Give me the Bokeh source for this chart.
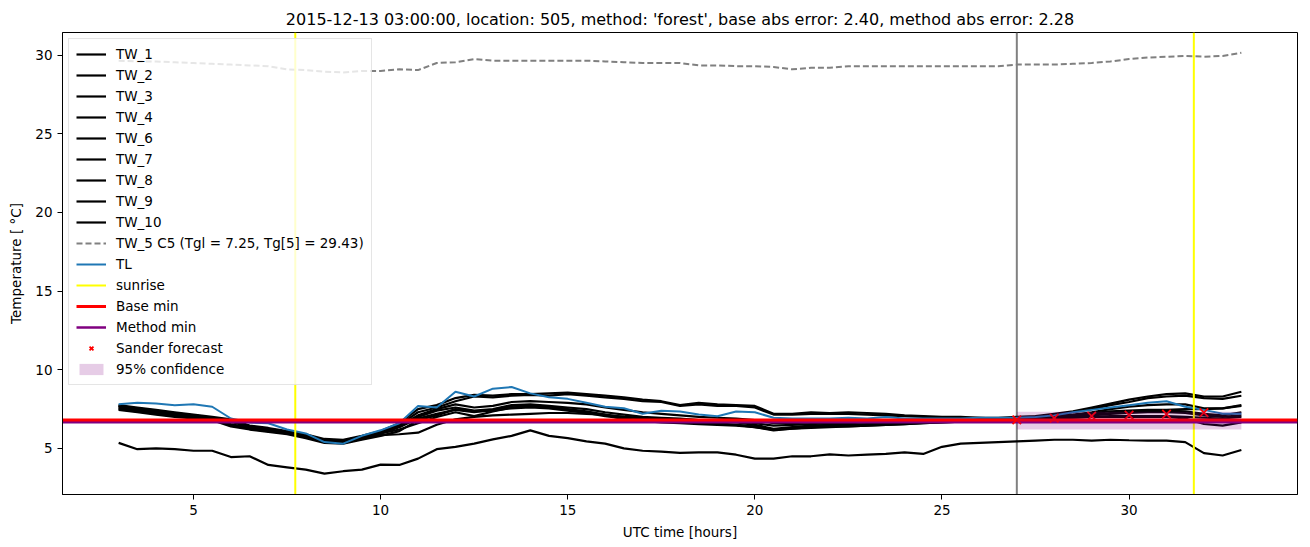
from bokeh.plotting import figure
from bokeh.models import Span, Legend, LegendItem, Range1d, FixedTicker
from bokeh.embed import file_html
from bokeh.resources import INLINE

# ---------------- data ----------------
hours = [3.0 + 0.5 * i for i in range(61)]

tw_1 = [5.35, 4.95, 5.0, 4.95, 4.85, 4.85, 4.45, 4.5, 3.95, 3.8, 3.65, 3.4, 3.55, 3.65, 3.97, 3.95,
        4.35, 4.95, 5.1, 5.3, 5.57, 5.8, 6.15, 5.8, 5.65, 5.45, 5.3, 5.0, 4.85, 4.8, 4.72, 4.75,
        4.75, 4.6, 4.35, 4.35, 4.5, 4.5, 4.62, 4.55, 4.6, 4.65, 4.75, 4.65, 5.1, 5.3, 5.35, 5.4,
        5.45, 5.5, 5.55, 5.55, 5.5, 5.55, 5.52, 5.5, 5.5, 5.4, 4.7, 4.55, 4.9]
tw_2 = [7.75, 7.6, 7.45, 7.3, 7.15, 7.0, 6.85, 6.45, 6.3, 6.1, 5.9, 5.6, 5.55, 5.8, 6.1, 6.6,
        7.5, 7.75, 8.2, 8.4, 8.35, 8.45, 8.45, 8.5, 8.55, 8.45, 8.35, 8.25, 8.1, 8.0, 7.75, 7.9,
        7.8, 7.75, 7.7, 7.2, 7.2, 7.3, 7.25, 7.3, 7.25, 7.2, 7.1, 7.05, 7.0, 7.0, 6.95, 6.95,
        7.0, 7.05, 7.2, 7.35, 7.6, 7.85, 8.1, 8.3, 8.45, 8.5, 8.3, 8.3, 8.6]
tw_3 = [7.7, 7.55, 7.4, 7.25, 7.1, 6.95, 6.8, 6.4, 6.25, 6.05, 5.85, 5.55, 5.5, 5.75, 6.05, 6.5,
        7.3, 7.6, 8.0, 8.3, 8.25, 8.35, 8.4, 8.35, 8.45, 8.35, 8.25, 8.15, 8.0, 7.95, 7.7, 7.8,
        7.7, 7.7, 7.6, 7.15, 7.15, 7.2, 7.2, 7.2, 7.15, 7.1, 7.05, 7.0, 6.95, 6.95, 6.95, 6.9,
        6.95, 7.0, 7.1, 7.3, 7.5, 7.75, 7.95, 8.2, 8.3, 8.35, 8.2, 8.15, 8.35]
tw_4 = [7.65, 7.5, 7.35, 7.2, 7.05, 6.9, 6.7, 6.35, 6.2, 6.0, 5.8, 5.5, 5.45, 5.7, 6.0, 6.4,
        7.0, 7.4, 7.6, 7.4, 7.5, 7.75, 7.8, 7.7, 7.6, 7.5, 7.3, 7.15, 7.0, 6.95, 6.9, 6.8,
        6.75, 6.65, 6.5, 6.25, 6.35, 6.45, 6.5, 6.5, 6.55, 6.6, 6.65, 6.7, 6.75, 6.8, 6.85, 6.85,
        6.9, 6.95, 7.0, 7.1, 7.25, 7.35, 7.4, 7.45, 7.45, 7.5, 7.5, 7.55, 7.7]
tw_6 = [7.6, 7.45, 7.3, 7.15, 7.0, 6.9, 6.5, 6.3, 6.15, 6.0, 5.75, 5.45, 5.4, 5.65, 5.95, 6.35,
        6.9, 7.2, 7.45, 7.3, 7.45, 7.7, 7.75, 7.65, 7.5, 7.35, 7.15, 7.0, 6.9, 6.8, 6.75, 6.65,
        6.6, 6.5, 6.4, 6.2, 6.3, 6.4, 6.45, 6.45, 6.5, 6.55, 6.6, 6.65, 6.7, 6.75, 6.8, 6.85,
        6.85, 6.9, 6.95, 7.0, 7.1, 7.2, 7.25, 7.3, 7.3, 7.25, 7.1, 7.0, 7.1]
tw_7 = [7.5, 7.35, 7.2, 7.05, 6.95, 6.85, 6.45, 6.25, 6.1, 5.95, 5.7, 5.4, 5.35, 5.6, 5.85, 5.9,
        6.0, 6.5, 6.85, 7.0, 7.1, 7.15, 7.2, 7.25, 7.25, 7.2, 7.15, 6.85, 6.75, 6.65, 6.6, 6.55,
        6.5, 6.45, 6.35, 6.2, 6.25, 6.3, 6.35, 6.4, 6.45, 6.5, 6.55, 6.6, 6.65, 6.7, 6.75, 6.8,
        6.85, 6.85, 6.9, 6.95, 7.0, 7.0, 7.0, 7.0, 7.0, 6.9, 6.55, 6.45, 6.65]
tw_8 = [7.55, 7.4, 7.25, 7.1, 7.0, 6.85, 6.55, 6.3, 6.15, 6.0, 5.75, 5.45, 5.4, 5.65, 5.95, 6.2,
        6.6, 7.0, 7.3, 7.05, 7.35, 7.6, 7.7, 7.6, 7.45, 7.3, 7.1, 7.0, 6.95, 6.9, 6.85, 6.8,
        6.75, 6.75, 6.6, 6.45, 6.5, 6.55, 6.6, 6.6, 6.65, 6.7, 6.7, 6.75, 6.8, 6.85, 6.85, 6.9,
        6.9, 6.95, 7.0, 7.05, 7.15, 7.25, 7.3, 7.35, 7.4, 7.35, 7.2, 7.1, 7.3]
tw_9 = [7.7, 7.5, 7.4, 7.2, 7.1, 6.95, 6.75, 6.4, 6.25, 6.05, 5.85, 5.5, 5.5, 5.75, 6.05, 6.45,
        7.1, 7.5, 7.8, 7.6, 7.7, 7.95, 8.0, 7.95, 7.9, 7.8, 7.6, 7.45, 7.3, 7.2, 7.1, 7.0,
        6.95, 6.9, 6.8, 6.6, 6.6, 6.65, 6.7, 6.7, 6.75, 6.75, 6.8, 6.8, 6.85, 6.9, 6.9, 6.9,
        6.95, 7.0, 7.05, 7.15, 7.3, 7.5, 7.65, 7.75, 7.8, 7.8, 7.55, 7.55, 7.75]
tw_10 = [7.45, 7.3, 7.15, 7.0, 6.9, 6.8, 6.4, 6.2, 6.05, 5.9, 5.65, 5.35, 5.3, 5.55, 5.8, 6.1,
         6.8, 7.1, 7.5, 7.35, 7.4, 7.55, 7.6, 7.55, 7.4, 7.25, 7.05, 6.9, 6.8, 6.7, 6.7, 6.6,
         6.55, 6.5, 6.35, 6.15, 6.25, 6.35, 6.4, 6.4, 6.45, 6.5, 6.55, 6.6, 6.65, 6.7, 6.75, 6.8,
         6.8, 6.85, 6.9, 6.95, 7.0, 7.05, 7.05, 7.05, 7.05, 7.0, 6.95, 6.9, 7.0]
tw_5 = [29.65, 29.6, 29.6, 29.55, 29.5, 29.45, 29.4, 29.35, 29.3, 29.1, 29.05, 28.95, 28.9, 29.0, 29.0, 29.1,
        29.05, 29.5, 29.55, 29.75, 29.65, 29.65, 29.65, 29.65, 29.65, 29.65, 29.6, 29.55, 29.5, 29.5, 29.5, 29.35,
        29.35, 29.3, 29.3, 29.25, 29.1, 29.2, 29.2, 29.3, 29.3, 29.3, 29.3, 29.3, 29.3, 29.3, 29.3, 29.3,
        29.4, 29.4, 29.4, 29.45, 29.5, 29.6, 29.75, 29.85, 29.9, 29.95, 29.9, 29.95, 30.15]
tl = [7.8, 7.9, 7.85, 7.75, 7.8, 7.65, 6.9, 6.65, 6.6, 6.2, 5.95, 5.4, 5.3, 5.8, 6.15, 6.6,
      7.7, 7.6, 8.6, 8.3, 8.8, 8.9, 8.5, 8.25, 8.15, 7.9, 7.65, 7.55, 7.2, 7.4, 7.35, 7.15,
      7.05, 7.35, 7.3, 6.95, 6.9, 6.9, 6.9, 6.95, 6.9, 7.0, 6.9, 6.9, 6.9, 6.9, 6.95, 6.95,
      6.95, 7.0, 7.1, 7.3, 7.45, 7.6, 7.75, 7.9, 8.0, 7.65, 7.45, 7.2, 7.2]

sunrise_hours = [7.72, 31.73]
forecast_hour = 27.0
base_min = 6.8
method_min = 6.67
sander_hours = [27, 28, 29, 30, 31, 32]
sander_values = [6.82, 6.92, 7.05, 7.12, 7.18, 7.27]
conf_hours = [27.0, 33.0]
conf_low = [6.2, 6.2]
conf_high = [7.33, 7.33]

x_limits = [1.5, 34.5]
y_limits = [2.07, 31.44]

tw_series = [("TW_1", tw_1), ("TW_2", tw_2), ("TW_3", tw_3), ("TW_4", tw_4), ("TW_6", tw_6),
             ("TW_7", tw_7), ("TW_8", tw_8), ("TW_9", tw_9), ("TW_10", tw_10)]

title = ("2015-12-13 03:00:00, location: 505, method: 'forest', "
         "base abs error: 2.40, method abs error: 2.28")

FONT = "DejaVu Sans"

p = figure(width=1310, height=547, output_backend="svg", toolbar_location=None,
           x_range=Range1d(*x_limits), y_range=Range1d(*y_limits),
           min_border_left=62, min_border_right=13, min_border_top=32, min_border_bottom=53,
           title=title)
p.title.align = "center"
p.title.text_font = FONT
p.title.text_font_size = "16px"
p.title.text_font_style = "normal"
p.title.text_color = "black"
p.title.standoff = 8
p.xgrid.visible = False
p.ygrid.visible = False
p.outline_line_color = "black"
p.outline_line_width = 1

for ax in (p.xaxis, p.yaxis):
    ax.axis_line_color = "black"
    ax.major_tick_line_color = "black"
    ax.major_tick_out = 5
    ax.major_tick_in = 0
    ax.minor_tick_line_color = None
    ax.major_label_text_font = FONT
    ax.major_label_text_font_size = "13.5px"
    ax.major_label_text_color = "black"
    ax.axis_label_text_font = FONT
    ax.axis_label_text_font_size = "13.5px"
    ax.axis_label_text_font_style = "normal"
    ax.axis_label_text_color = "black"
p.xaxis.ticker = FixedTicker(ticks=[5, 10, 15, 20, 25, 30])
p.yaxis.ticker = FixedTicker(ticks=[5, 10, 15, 20, 25, 30])
p.xaxis.axis_label = "UTC time [hours]"
p.yaxis.axis_label = "Temperature [ °C]"
p.xaxis.axis_label_standoff = 6
p.yaxis.axis_label_standoff = 8

p.add_layout(Span(location=forecast_hour, dimension="height", line_color="gray",
                  line_width=2, level="underlay"))

items = []
for name, vals in tw_series:
    r = p.line(hours, vals, line_color="black", line_width=2.2)
    items.append(LegendItem(label=name, renderers=[r]))

r5 = p.line(hours, tw_5, line_color="gray", line_width=2, line_dash="6 3")
items.append(LegendItem(label="TW_5 C5 (Tgl = 7.25, Tg[5] = 29.43)", renderers=[r5]))

rtl = p.line(hours, tl, line_color="#1f77b4", line_width=2)
items.append(LegendItem(label="TL", renderers=[rtl]))

rsun = p.segment(x0=sunrise_hours, y0=[y_limits[0]] * len(sunrise_hours),
                 x1=sunrise_hours, y1=[y_limits[1]] * len(sunrise_hours),
                 line_color="yellow", line_width=2)
items.append(LegendItem(label="sunrise", renderers=[rsun]))

rmeth = p.line(x_limits, [method_min, method_min], line_color="purple", line_width=2.5)
rbase = p.line(x_limits, [base_min, base_min], line_color="red", line_width=3)
items.append(LegendItem(label="Base min", renderers=[rbase]))
items.append(LegendItem(label="Method min", renderers=[rmeth]))

rs = p.scatter(sander_hours, sander_values, marker="x", size=12, line_color="red", line_width=1.8)
items.append(LegendItem(label="Sander forecast", renderers=[rs]))

rc = p.varea(x=conf_hours, y1=conf_low, y2=conf_high, fill_color="purple", fill_alpha=0.2)
items.append(LegendItem(label="95% confidence", renderers=[rc]))

legend = Legend(items=items, location="top_left")
legend.label_text_font = FONT
legend.label_text_font_size = "13.5px"
legend.label_text_color = "black"
legend.label_height = 14
legend.glyph_height = 14
legend.glyph_width = 30
legend.spacing = 5
legend.padding = 7
legend.margin = 6
legend.label_standoff = 10
legend.border_line_color = "#cccccc"
legend.border_line_width = 1
legend.background_fill_alpha = 0.8
p.add_layout(legend, "center")

open("out.html", "w").write(file_html(p, INLINE))
